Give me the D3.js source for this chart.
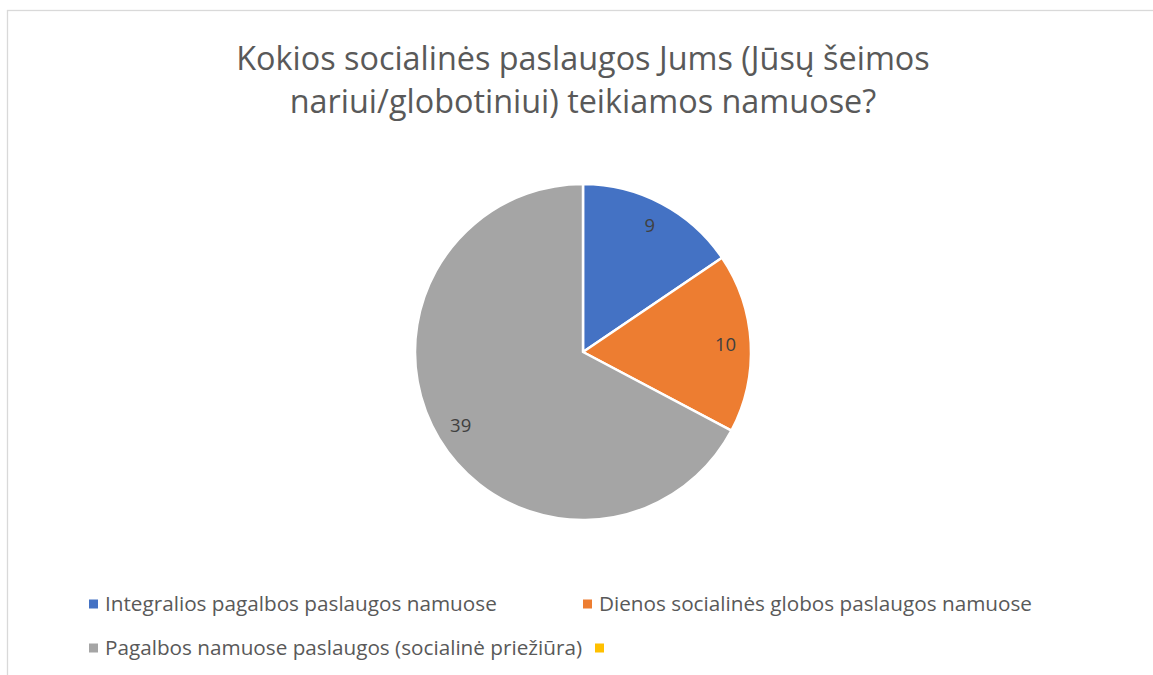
<!DOCTYPE html>
<html>
<head>
<meta charset="utf-8">
<script src="https://cdn.jsdelivr.net/npm/d3@7"></script>
<style>
  html, body { margin: 0; padding: 0; background: #fff; }
  svg { display: block; font-family: "Open Sans", "Noto Sans", sans-serif; }
</style>
</head>
<body>
<div id="chart"></div>
<script>
const WIDTH = 1153, HEIGHT = 675

const titleLines = ['Kokios socialinės paslaugos Jums (Jūsų šeimos', 'nariui/globotiniui) teikiamos namuose?']
const categories = [
  'Integralios pagalbos paslaugos namuose',
  'Dienos socialinės globos paslaugos namuose',
  'Pagalbos namuose paslaugos (socialinė priežiūra)',
  '',
]
const values = [9, 10, 39, 0]
const colors = ['#4472C4', '#ED7D31', '#A5A5A5', '#FFC000']

const TEXT = '#595959'
const LABEL = '#404040'

const svg = d3.select('#chart').append('svg').attr('width', WIDTH).attr('height', HEIGHT)

// chart frame (right/bottom edges fall outside the crop)
svg.append('rect')
  .attr('x', 7.5).attr('y', 10.5)
  .attr('width', WIDTH + 20).attr('height', HEIGHT + 20)
  .attr('fill', '#fff').attr('stroke', '#d9d9d9').attr('stroke-width', 1.3)

// ── title ────────────────────────────────────────────────────
const title = svg.append('g').attr('class', 'title')
const tl = title.selectAll('text').data(titleLines).join('text')
  .attr('x', 583).attr('y', (d, i) => 70 + i * 43)
  .attr('text-anchor', 'middle')
  .attr('fill', TEXT)
  .style('font-size', '30px')
  .text(d => d)
// fit first line to the reference width (~694px)
const w0 = tl.nodes()[0].getComputedTextLength()
const titleSize = 30 * 694 / w0
tl.style('font-size', titleSize + 'px')

// ── pie ──────────────────────────────────────────────────────
const data = categories.map((c, i) => ({ name: c, value: values[i], color: colors[i] }))
const cx = 583, cy = 352, R = 168

const pie = d3.pie().value(d => d.value).sort(null)
const arc = d3.arc().innerRadius(0).outerRadius(R)
const labelArc = d3.arc().innerRadius(R * 0.85).outerRadius(R * 0.85)

const gPie = svg.append('g').attr('transform', `translate(${cx},${cy})`)
const arcs = pie(data)

gPie.selectAll('path').data(arcs.filter(d => d.data.value > 0)).join('path')
  .attr('d', arc)
  .attr('fill', d => d.data.color)
  .attr('stroke', '#fff').attr('stroke-width', 2.5)
  .attr('stroke-linejoin', 'round')

gPie.selectAll('text').data(arcs.filter(d => d.data.value > 0)).join('text')
  .attr('transform', d => `translate(${labelArc.centroid(d)})`)
  .attr('text-anchor', 'middle').attr('dy', '0.35em')
  .attr('fill', LABEL)
  .style('font-size', '18.5px')
  .text(d => d.data.value)

// ── legend ───────────────────────────────────────────────────
const LEG_X = 89, COL_W = 494, ROW_Y = [604, 648], GAP = 13, PER_ROW = 2
const gLeg = svg.append('g').attr('class', 'legend')

// scale legend font so first entry matches reference width (~392px)
const probe = gLeg.append('text').style('font-size', '17px').text(categories[0])
const legSize = 17 * 392 / probe.node().getComputedTextLength()
probe.remove()

let flowX = LEG_X
data.forEach((d, i) => {
  const row = Math.floor(i / PER_ROW), col = i % PER_ROW
  if (col === 0) flowX = LEG_X
  const x = Math.max(flowX, LEG_X + col * COL_W)
  const y = ROW_Y[row]
  gLeg.append('rect')
    .attr('x', x).attr('y', y - 4.5).attr('width', 9).attr('height', 9)
    .attr('fill', d.color)
  const t = gLeg.append('text')
    .attr('x', x + 16).attr('y', y).attr('dy', '0.35em')
    .attr('fill', TEXT)
    .style('font-size', legSize + 'px')
    .text(d.name)
  flowX = x + 16 + (d.name ? t.node().getComputedTextLength() : 0) + GAP
})
</script>
</body>
</html>
